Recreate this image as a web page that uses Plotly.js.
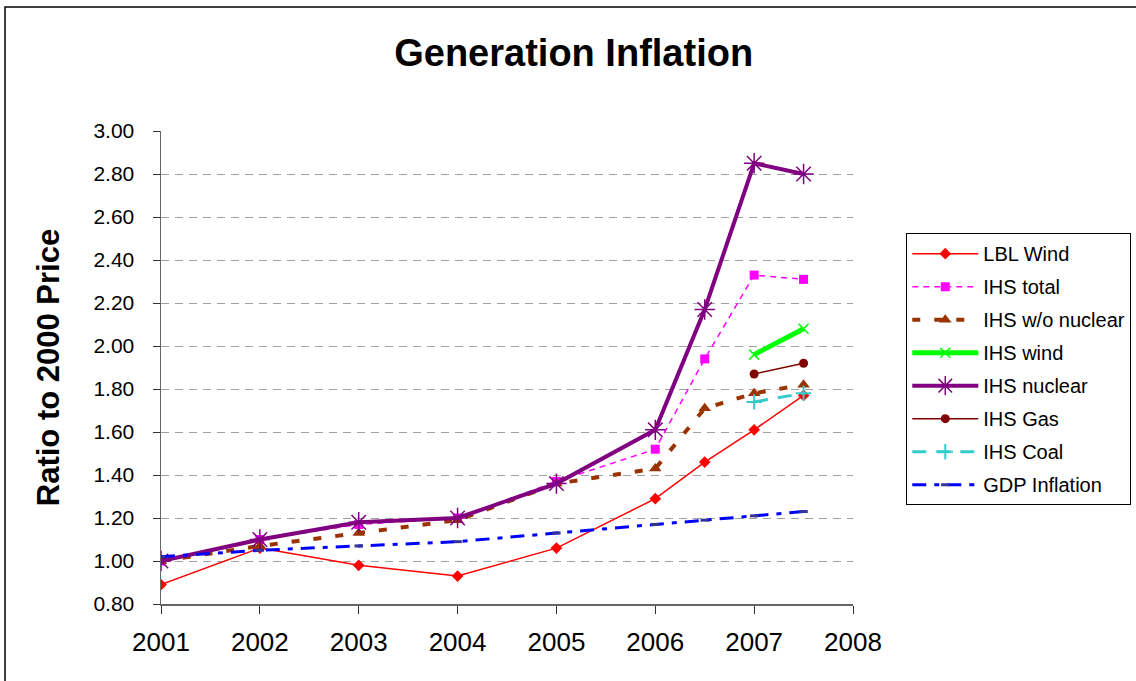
<!DOCTYPE html>
<html>
<head>
<meta charset="utf-8">
<script src="https://cdn.plot.ly/plotly-3.0.1.min.js"></script>
<style>html,body{margin:0;padding:0;background:#fff;}#chart{width:1136px;height:681px;}</style>
</head>
<body>
<div id="chart"></div>
<script>
const xFull = [2001, 2002, 2003, 2004, 2005, 2006, 2006.5, 2007, 2007.5];
const xLate = [2007, 2007.5];

const lblWind     = [0.89, 1.06, 0.98, 0.93, 1.06, 1.29, 1.46, 1.61, 1.77];
const ihsTotal    = [1.00, 1.10, 1.17, 1.20, 1.37, 1.52, 1.94, 2.33, 2.31];
const ihsNoNuc    = [1.00, 1.07, 1.13, 1.19, 1.36, 1.43, 1.71, 1.78, 1.82];
const ihsWind     = [1.96, 2.08];
const ihsNuclear  = [1.00, 1.10, 1.18, 1.20, 1.36, 1.61, 2.17, 2.85, 2.80];
const ihsGas      = [1.87, 1.92];
const ihsCoal     = [1.74, 1.78];
const gdpInfl     = [1.02, 1.05, 1.07, 1.09, 1.13, 1.17, 1.19, 1.21, 1.23];

const yTicks = [0.8, 1.0, 1.2, 1.4, 1.6, 1.8, 2.0, 2.2, 2.4, 2.6, 2.8, 3.0];
const xTicks = [2001, 2002, 2003, 2004, 2005, 2006, 2007, 2008];

const traces = [
  {name:'LBL Wind', x:xFull, y:lblWind, mode:'lines+markers',
   line:{color:'#FF0000', width:1.5}, marker:{symbol:'diamond', size:9, color:'#FF0000'}},
  {name:'IHS total', x:xFull, y:ihsTotal, mode:'lines+markers',
   line:{color:'#FF00FF', width:1.5, dash:'6px,5px'}, marker:{symbol:'square', size:9, color:'#FF00FF'}},
  {name:'IHS w/o nuclear', x:xFull, y:ihsNoNuc, mode:'lines+markers',
   line:{color:'#993300', width:4, dash:'8px,14px'}, marker:{symbol:'triangle-up', size:11, color:'#993300'}},
  {name:'IHS wind', x:xLate, y:ihsWind, mode:'lines+markers',
   line:{color:'#00FF00', width:5}, marker:{symbol:'x-thin-open', size:10, color:'#00FF00', line:{width:1.5, color:'#00FF00'}}},
  {name:'IHS nuclear', x:xFull, y:ihsNuclear, mode:'lines+markers',
   line:{color:'#800080', width:4}, marker:{symbol:'asterisk-open', size:17, color:'#800080', line:{width:1.5, color:'#800080'}}},
  {name:'IHS Gas', x:xLate, y:ihsGas, mode:'lines+markers',
   line:{color:'#800000', width:1.5}, marker:{symbol:'circle', size:9, color:'#800000'}},
  {name:'IHS Coal', x:xLate, y:ihsCoal, mode:'lines+markers',
   line:{color:'#33CCCC', width:3, dash:'14px,10px'}, marker:{symbol:'cross-thin-open', size:11, color:'#33CCCC', line:{width:2, color:'#33CCCC'}}},
  {name:'GDP Inflation', x:xFull, y:gdpInfl, mode:'lines+markers',
   line:{color:'#0000FF', width:3, dash:'14px,8px,5px,8px'}, marker:{symbol:'line-ew-open', size:6, color:'#333399', line:{width:3, color:'#333399'}}}
];
traces.forEach((t,i)=>{ t.legendgroup = 'g'+i; });

const layout = {
  width:1136, height:681,
  margin:{l:161, r:283, t:131, b:77, pad:0, autoexpand:false},
  paper_bgcolor:'#FFFFFF', plot_bgcolor:'#FFFFFF',
  font:{family:'Arial, "Liberation Sans", sans-serif', color:'#000'},
  title:{text:'<b>Generation Inflation</b>', font:{size:38, color:'#000'}, x:0.505, xanchor:'center', y:0.922, yanchor:'middle'},
  showlegend:true,
  legend:{x:1.077, xanchor:'left', y:0.784, yanchor:'top', bordercolor:'#000', borderwidth:1,
          bgcolor:'#FFF', font:{size:20}, tracegroupgap:4, traceorder:'grouped', itemwidth:66},
  xaxis:{range:[2001, 2008], tickvals:xTicks, ticktext:xTicks.map(String), showgrid:false, zeroline:false,
         showline:true, linecolor:'#666', linewidth:1.5, ticks:'outside', ticklen:8, tickcolor:'#333', tickwidth:1,
         tickfont:{size:26}, ticklabelstandoff:6, fixedrange:true},
  yaxis:{range:[0.8, 3.0], tickvals:yTicks, ticktext:yTicks.map(v=>v.toFixed(2)), showgrid:true, gridcolor:'#A0A0A0',
         griddash:'8px,6px', gridwidth:1, zeroline:false, showline:true, linecolor:'#666', linewidth:1.5,
         ticks:'outside', ticklen:7, tickcolor:'#333', tickfont:{size:21}, ticklabelstandoff:14,
         title:{text:'<b>Ratio to 2000 Price</b>', font:{size:31}, standoff:24}, fixedrange:true},
  shapes:[{type:'rect', xref:'paper', yref:'paper', x0:-0.2254, x1:1.6, y0:-0.3, y1:1.262,
           line:{color:'#000', width:1.5}, fillcolor:'rgba(0,0,0,0)', layer:'below'}]
};

Plotly.newPlot('chart', traces, layout, {displayModeBar:false, staticPlot:true});
</script>
</body>
</html>
